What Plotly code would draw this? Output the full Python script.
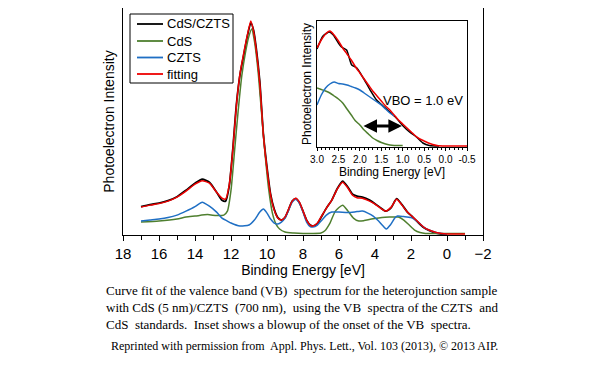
import plotly.graph_objects as go

# ---------------- main spectrum data (binding energy eV, intensity a.u.) ----------------
fit_be = [17.0, 16.5, 16.0, 15.5, 15.0, 14.5, 14.0, 13.6, 13.2, 12.8, 12.5, 12.3, 12.1, 11.9, 11.7,
          11.5, 11.3, 11.1, 10.9, 10.75, 10.6, 10.4, 10.2, 10.0, 9.8, 9.6, 9.4, 9.2, 9.0, 8.8, 8.6,
          8.4, 8.2, 8.0, 7.8, 7.6, 7.45, 7.2, 7.0, 6.7, 6.4, 6.1, 5.8, 5.5, 5.25, 5.0, 4.7, 4.3,
          4.0, 3.7, 3.4, 3.1, 2.8, 2.5, 2.2, 1.9, 1.6, 1.3, 1.0, 0.6, 0.3, 0.0, -0.5, -1.0]
fit_int = [28, 30, 31.5, 34, 38, 44, 51, 54.5, 52, 43, 37, 36, 50, 85, 130,
           162, 182, 200, 215, 205, 186, 152, 100, 66, 40, 25, 17, 15, 18, 26, 34,
           37, 33, 24, 15, 10, 9, 12, 18, 27, 35, 46, 53, 47, 40, 37.5, 37, 34,
           31, 27, 24, 28, 36, 30, 23, 18, 13, 8, 5, 2.5, 1.5, 1, 1, 1]

meas_be = [17.0, 16.5, 16.0, 15.5, 15.0, 14.5, 14.0, 13.6, 13.2, 12.8, 12.5, 12.3, 12.1, 11.9, 11.7,
           11.5, 11.3, 11.1, 10.9, 10.75, 10.6, 10.4, 10.2, 10.0, 9.8, 9.6, 9.4, 9.2, 9.0, 8.8, 8.6,
           8.4, 8.2, 8.0, 7.8, 7.6, 7.45, 7.2, 7.0, 6.7, 6.4, 6.1, 5.8, 5.5, 5.25, 5.0, 4.7, 4.3,
           4.0, 3.7, 3.4, 3.1, 2.8, 2.5, 2.2, 1.9, 1.6, 1.3, 1.0, 0.6, 0.3, 0.0]
meas_int = [28.5, 30.5, 32, 34.5, 38.5, 45, 52, 56, 53, 43, 35, 34, 49, 86, 131,
            161, 180, 199, 213, 206, 188, 154, 101, 68, 41, 26, 17.5, 15, 17.5, 25.5, 34,
            36.5, 32.5, 24, 15, 10, 9, 11.5, 17.5, 27, 35, 46.5, 54, 48, 41, 39, 38, 35,
            31.5, 27.5, 24, 27.5, 36.5, 30.5, 23, 18, 12.5, 7.5, 4.5, 2, 1, 0.5]

cds_be = [17.0, 16.0, 15.0, 14.5, 14.0, 13.3, 12.8, 12.4, 12.2, 12.0, 11.8, 11.6, 11.4, 11.2, 11.0,
          10.85, 10.7, 10.5, 10.3, 10.1, 9.9, 9.7, 9.5, 9.3, 9.0, 8.5, 8.0, 7.5, 7.0, 6.8, 6.5,
          6.2, 5.8, 5.5, 5.2, 4.9, 4.6, 4.2, 3.8, 3.2, 2.7, 2.4, 2.1, 1.8, 1.5, 1.2, 0.5, -1.0]
cds_int = [13, 14, 16, 18, 19, 20.5, 19.5, 20, 24, 45, 85, 125, 160, 183, 200,
           207, 195, 165, 122, 80, 45, 22, 11, 6, 3, 2, 1.5, 1.5, 2, 4, 12,
           24, 30, 24, 17, 14, 14.5, 16, 17, 18, 18, 15, 10, 5, 2.5, 1.5, 1.5, 1.5]

czts_be = [17.0, 16.5, 16.0, 15.5, 15.0, 14.5, 14.0, 13.6, 13.2, 12.8, 12.5, 12.2, 12.0, 11.5, 11.0,
           10.7, 10.4, 10.2, 10.0, 9.8, 9.6, 9.4, 9.2, 9.0, 8.8, 8.6, 8.4, 8.2, 8.0, 7.8, 7.6,
           7.45, 7.2, 7.0, 6.7, 6.4, 6.0, 5.5, 5.0, 4.7, 4.4, 4.1, 3.8, 3.55, 3.37, 3.15, 2.9,
           2.75, 2.4, 2.0, 1.6, 1.3, 1.0, 0.6, 0.3, 0.0]
czts_int = [14, 15, 16, 17.5, 20, 24, 28.5, 33, 29, 23, 17, 14, 12, 9, 10,
            15, 23, 26, 22, 16, 12, 11, 13, 17, 25, 33, 36, 32, 23, 13, 8.5,
            8, 10, 14, 20, 23, 23, 22.5, 23.5, 24, 22, 19, 14, 9, 6, 10, 17,
            19, 18.5, 17.5, 13, 8, 5, 2.5, 1.5, 1]

# ---------------- inset data (onset of VB) ----------------
in_fit_be = [3.0, 2.9, 2.8, 2.7, 2.6, 2.5, 2.4, 2.3, 2.2, 2.1, 2.0, 1.9, 1.8, 1.7, 1.6, 1.5, 1.4,
             1.3, 1.2, 1.1, 1.0, 0.9, 0.8, 0.7, 0.6, 0.5, 0.4, 0.3, 0.2, 0.0, -0.5]
in_fit_int = [99, 107, 113, 116, 112, 106, 99, 93, 87, 80, 74, 68, 62, 56, 51, 46, 41,
              37, 32, 27, 23, 19, 15, 11, 8, 6, 4, 2.5, 1.5, 1, 1]

in_meas_be = [3.0, 2.86, 2.71, 2.62, 2.5, 2.43, 2.31, 2.19, 2.07, 1.92, 1.76, 1.61, 1.46, 1.3,
              1.15, 0.99, 0.84, 0.68, 0.53, 0.38, 0.15]
in_meas_int = [98, 111, 115, 112, 104, 100, 97, 82, 79, 69, 57, 47, 41, 35,
               29, 21, 15, 10, 4, 1.5, 1]

in_czts_be = [3.0, 2.9, 2.8, 2.7, 2.6, 2.5, 2.4, 2.3, 2.2, 2.1, 2.0, 1.9, 1.8, 1.7, 1.6, 1.5, 1.4, 1.3, 1.2]
in_czts_int = [42, 52, 59, 63, 65, 63.5, 63, 62, 60.5, 59, 57, 54, 51, 48, 45, 42, 38, 34, 31]

in_cds_be = [3.0, 2.9, 2.8, 2.7, 2.6, 2.5, 2.4, 2.3, 2.2, 2.1, 2.0, 1.9, 1.8, 1.7, 1.6, 1.5, 1.4, 1.3, 1.2, 1.0]
in_cds_int = [59, 57.5, 56, 54, 51, 48, 44, 38, 32, 26, 22, 17, 13, 9, 6.5, 4.5, 3, 2, 1.5, 1.5]

inset_ticks = [3.0, 2.5, 2.0, 1.5, 1.0, 0.5, 0.0, -0.5]
inset_ticktext = ["3.0", "2.5", "2.0", "1.5", "1.0", "0.5", "0.0", "-0.5"]

series_names = ["CdS/CZTS", "CdS", "CZTS", "fitting"]

vbo_from, vbo_to, vbo_level = 1.95, 1.02, 21

BLACK = "#000000"
GREEN = "#4f7f2f"
BLUE = "#1f6fc4"
RED = "#ee0000"
colors = [BLACK, GREEN, BLUE, RED]
FONT = "Liberation Sans, Arial, sans-serif"
SERIF = "Liberation Serif, Times New Roman, serif"

# page geometry: body has an 8px margin, the plot frame spans window px 123..483 x 8..235
W, H = 592, 362
PX0, PX1, PY0, PY1 = 123, 483, 8, 235


def px(xw):
    return (xw - PX0) / (PX1 - PX0)


def py(yw):
    return (PY1 - yw) / (PY1 - PY0)


fig = go.Figure()
sp = dict(shape="spline", smoothing=0.6)

main_sets = [(meas_be, meas_int, 1.8), (cds_be, cds_int, 1.5), (czts_be, czts_int, 1.5), (fit_be, fit_int, 1.5)]
for (xs, ys, lw), nm, c in zip(main_sets, series_names, colors):
    fig.add_trace(go.Scatter(x=xs, y=ys, name=nm, mode="lines", showlegend=False,
                             line=dict(color=c, width=lw, **sp)))

inset_sets = [(in_meas_be, in_meas_int), (in_cds_be, in_cds_int), (in_czts_be, in_czts_int), (in_fit_be, in_fit_int)]
for (xs, ys), nm, c in zip(inset_sets, series_names, colors):
    fig.add_trace(go.Scatter(x=xs, y=ys, name=nm, xaxis="x2", yaxis="y2", mode="lines",
                             showlegend=False, line=dict(color=c, width=1.5, **sp)))

fig.update_layout(
    width=W, height=H,
    margin=dict(l=PX0 - 8, r=W - (PX1 - 8), t=PY0 - 8, b=H - (PY1 - 8)),
    paper_bgcolor="white", plot_bgcolor="white",
    font=dict(family=FONT, color="black"),
    showlegend=False,
    xaxis=dict(range=[18, -2], domain=[0, 1], showgrid=False, zeroline=False,
               showline=True, linecolor="black", linewidth=1, mirror=True,
               ticks="outside", ticklen=5, tickcolor="black", dtick=2, tick0=0,
               tickfont=dict(size=15, family=FONT),
               minor=dict(dtick=1, ticks="outside", ticklen=4, tickcolor="black"),
               title=dict(text="Binding Energy [eV]", font=dict(size=14), standoff=2)),
    yaxis=dict(range=[0, 228], domain=[0, 1], showgrid=False, zeroline=False,
               showline=True, linecolor="black", linewidth=1, mirror=True,
               showticklabels=False, ticks="",
               title=dict(text="Photoelectron Intensity", font=dict(size=14), standoff=4)),
    xaxis2=dict(range=[3.0, -0.5], domain=[px(317), px(467)], anchor="y2",
                showgrid=False, zeroline=False, showline=True, linecolor="black",
                linewidth=1, mirror=True, ticks="outside", ticklen=3, tickcolor="black",
                tickvals=inset_ticks, ticktext=inset_ticktext,
                tickfont=dict(size=10, family=FONT),
                minor=dict(dtick=0.1, ticks="outside", ticklen=2, tickcolor="black"),
                title=dict(text="Binding Energy [eV]", font=dict(size=12), standoff=0)),
    yaxis2=dict(range=[0, 126], domain=[py(147), py(21)], anchor="x2",
                showgrid=False, zeroline=False, showline=True, linecolor="black",
                linewidth=1, mirror=True, showticklabels=False, ticks="",
                title=dict(text="Photoelectron Intensity", font=dict(size=12), standoff=1)),
)

# legend drawn as a framed key
shapes = [dict(type="rect", xref="paper", yref="paper", x0=px(130), x1=px(233), y0=py(83), y1=py(14),
               line=dict(color="black", width=1), fillcolor="white", layer="above")]
legend_rows = [24, 41, 57.5, 74]
for nm, c, yr in zip(series_names, colors, legend_rows):
    shapes.append(dict(type="line", xref="paper", yref="paper", x0=px(137), x1=px(163),
                       y0=py(yr), y1=py(yr), line=dict(color=c, width=1.8), layer="above"))
    fig.add_annotation(x=px(165), y=py(yr), xref="paper", yref="paper", xanchor="left",
                       yanchor="middle", text=nm, showarrow=False,
                       font=dict(size=13, family=FONT, color="black"))
fig.update_layout(shapes=shapes)

# VBO arrow and label
fig.add_annotation(x=vbo_to, y=vbo_level, ax=vbo_from, ay=vbo_level,
                   xref="x2", yref="y2", axref="x2", ayref="y2", text="",
                   showarrow=True, arrowhead=2, arrowsize=0.9, arrowwidth=3,
                   arrowcolor="black", arrowside="end+start", startarrowhead=2,
                   startarrowsize=0.9)
fig.add_annotation(x=0.53, y=47, xref="x2", yref="y2", text="VBO = 1.0 eV",
                   showarrow=False, font=dict(size=13, family=FONT, color="black"))

# caption (one multi-line block)
caption_lines = [
    "Curve fit of the valence band (VB)  spectrum for the heterojunction sample",
    "with CdS (5 nm)/CZTS  (700 nm),  using the VB  spectra of the CZTS  and",
    "CdS  standards.  Inset shows a blowup of the onset of the VB  spectra.",
]
fig.add_annotation(x=px(104), y=py(281), xref="paper", yref="paper",
                   xanchor="left", yanchor="top", align="left",
                   text="<br>".join(caption_lines), showarrow=False,
                   font=dict(size=13, family=SERIF, color="black"))
fig.add_annotation(x=px(304), y=py(346), xref="paper", yref="paper",
                   xanchor="center", yanchor="middle",
                   text="Reprinted with permission from  Appl. Phys. Lett., Vol. 103 (2013), \u00a9 2013 AIP.",
                   showarrow=False, font=dict(size=12, family=SERIF, color="black"))

fig.write_html("out.html")
